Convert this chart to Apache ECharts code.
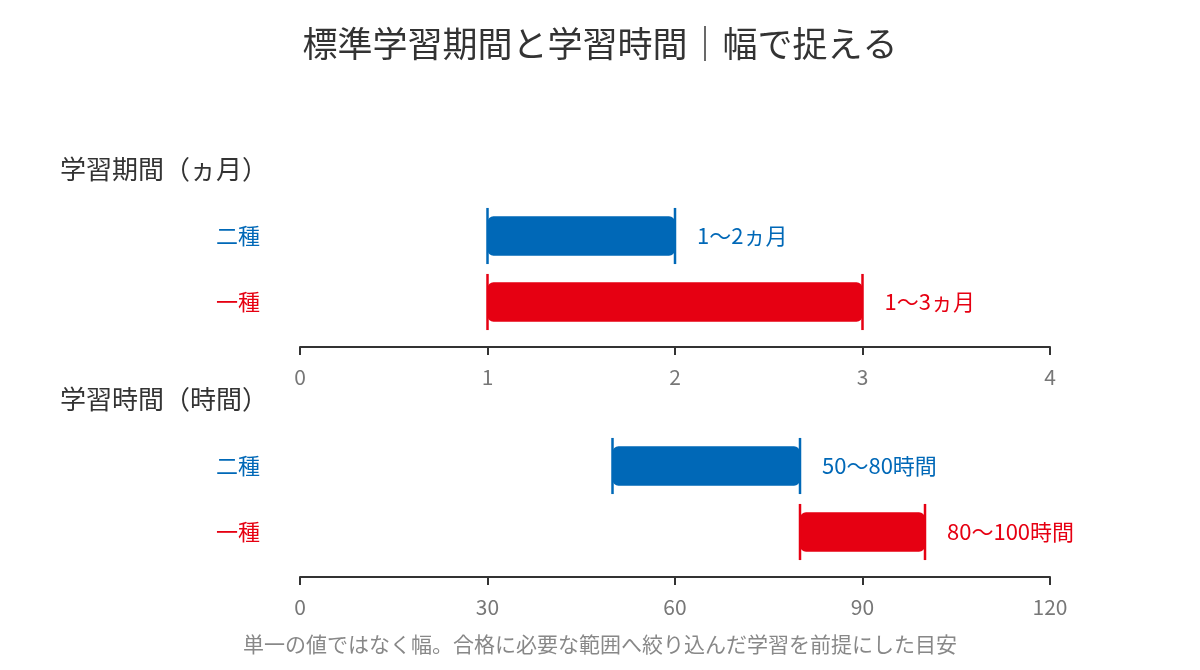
<!DOCTYPE html>
<html>
<head>
<meta charset="utf-8">
<title>標準学習期間と学習時間</title>
<script src="https://cdn.jsdelivr.net/npm/echarts@6/dist/echarts.min.js"></script>
<style>
  html, body { margin: 0; padding: 0; background: #fff; }
  #main { width: 1200px; height: 670px; }
</style>
</head>
<body>
<div id="main"></div>
<script>
// 区分（上から）
var categories = ['二種', '一種'];
var colors = ['#0068b7', '#e60012'];

// 学習期間（ヵ月）
var periodLow = [1, 1];
var periodHigh = [2, 3];
var periodLabels = ['1〜2ヵ月', '1〜3ヵ月'];
var periodTicks = [0, 1, 2, 3, 4];

// 学習時間（時間）
var hoursLow = [50, 80];
var hoursHigh = [80, 100];
var hoursLabels = ['50〜80時間', '80〜100時間'];
var hoursTicks = [0, 30, 60, 90, 120];

var FONT = '"Noto Sans CJK JP", "Noto Sans", sans-serif';

function rangeItem(params, api) {
    var cat = api.value(0);
    var low = api.value(1);
    var high = api.value(2);
    var p1 = api.coord([low, cat]);
    var p2 = api.coord([high, cat]);
    var band = api.size([0, 1])[1];
    var barH = band * 0.6;
    var capH = band * 0.85;
    var color = colors[params.dataIndex];
    var label = params.seriesIndex === 0 ? periodLabels[params.dataIndex] : hoursLabels[params.dataIndex];
    return {
        type: 'group',
        children: [
            {
                type: 'rect',
                shape: { x: p1[0], y: p1[1] - barH / 2, width: p2[0] - p1[0], height: barH, r: 6 },
                style: { fill: color }
            },
            {
                type: 'line',
                shape: { x1: p1[0], y1: p1[1] - capH / 2, x2: p1[0], y2: p1[1] + capH / 2 },
                style: { stroke: color, lineWidth: 2.5 }
            },
            {
                type: 'line',
                shape: { x1: p2[0], y1: p2[1] - capH / 2, x2: p2[0], y2: p2[1] + capH / 2 },
                style: { stroke: color, lineWidth: 2.5 }
            },
            {
                type: 'text',
                style: {
                    x: p2[0] + 22, y: p2[1], text: label,
                    fill: color, font: '22px ' + FONT,
                    textAlign: 'left', textVerticalAlign: 'middle'
                }
            }
        ]
    };
}

function makeX(gridIndex, ticks) {
    return {
        type: 'value', gridIndex: gridIndex,
        min: ticks[0], max: ticks[ticks.length - 1], interval: ticks[1] - ticks[0],
        offset: 12,
        axisLine: { show: true, lineStyle: { color: '#333', width: 2 } },
        axisTick: { show: true, length: 8, lineStyle: { color: '#333', width: 2 } },
        splitLine: { show: false },
        axisLabel: { color: '#777', fontSize: 21, margin: 20, fontFamily: FONT }
    };
}

function makeY(gridIndex) {
    return {
        type: 'category', gridIndex: gridIndex, data: categories, inverse: true,
        axisLine: { show: false }, axisTick: { show: false },
        axisLabel: {
            fontSize: 22, margin: 40, fontFamily: FONT,
            color: function (value, index) { return colors[index]; }
        }
    };
}

var myChart = echarts.init(document.getElementById('main'));

var option = {
    backgroundColor: '#fff',
    animation: false,
    title: [
        { text: '標準学習期間と学習時間｜幅で捉える', left: 'center', top: 26, padding: 0,
          textStyle: { fontSize: 35, fontWeight: 'normal', color: '#333', fontFamily: FONT } },
        { text: '学習期間（ヵ月）', left: 60, top: 156, padding: 0,
          textStyle: { fontSize: 26, fontWeight: 'normal', color: '#333', fontFamily: FONT } },
        { text: '学習時間（時間）', left: 60, top: 386, padding: 0,
          textStyle: { fontSize: 26, fontWeight: 'normal', color: '#333', fontFamily: FONT } },
        { text: '単一の値ではなく幅。合格に必要な範囲へ絞り込んだ学習を前提にした目安', left: 'center', top: 634, padding: 0,
          textStyle: { fontSize: 21, fontWeight: 'normal', color: '#888', fontFamily: FONT } }
    ],
    grid: [
        { left: 300, right: 150, top: 203, height: 132 },
        { left: 300, right: 150, top: 433, height: 132 }
    ],
    xAxis: [makeX(0, periodTicks), makeX(1, hoursTicks)],
    yAxis: [makeY(0), makeY(1)],
    series: [
        {
            type: 'custom', xAxisIndex: 0, yAxisIndex: 0,
            renderItem: rangeItem,
            encode: { x: [1, 2], y: 0 },
            data: categories.map(function (c, i) { return [i, periodLow[i], periodHigh[i]]; })
        },
        {
            type: 'custom', xAxisIndex: 1, yAxisIndex: 1,
            renderItem: rangeItem,
            encode: { x: [1, 2], y: 0 },
            data: categories.map(function (c, i) { return [i, hoursLow[i], hoursHigh[i]]; })
        }
    ]
};

myChart.setOption(option);
</script>
</body>
</html>
